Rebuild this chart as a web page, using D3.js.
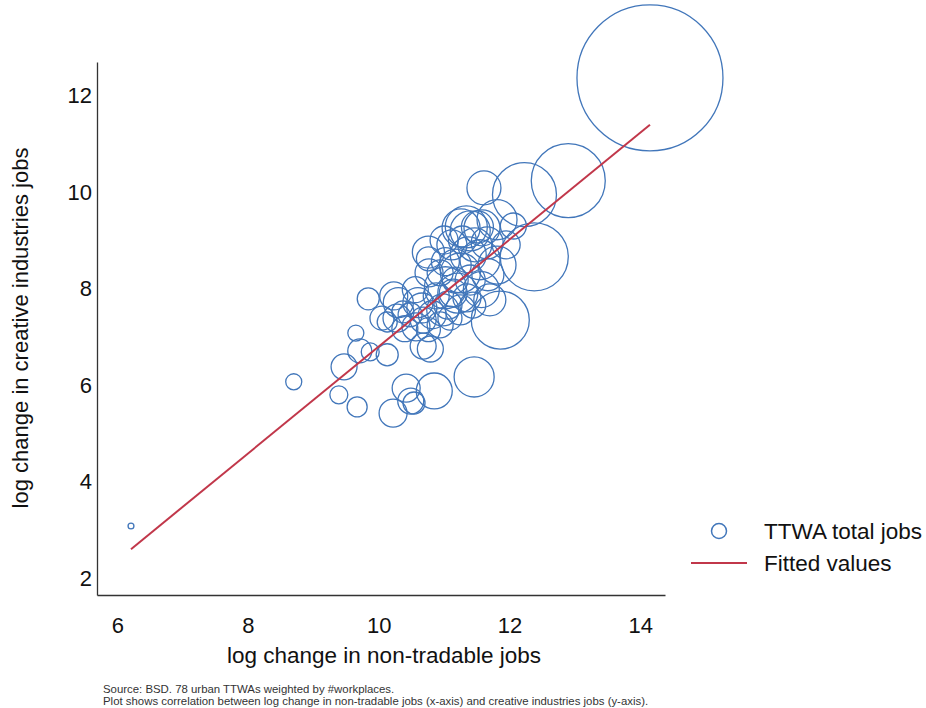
<!DOCTYPE html>
<html>
<head>
<meta charset="utf-8">
<script src="https://cdn.jsdelivr.net/npm/d3@7"></script>
<style>
  html, body { margin: 0; padding: 0; background: #fff; }
  svg { display: block; font-family: Arial, "Liberation Sans", Helvetica, sans-serif; }
</style>
</head>
<body>
<div id="chart"></div>
<script>
// Log change in non-tradable jobs (x) vs creative industries jobs (y), one bubble per TTWA,
// bubble area proportional to total jobs (thousands).
const nonTradable = [
  14.15, 12.90, 12.23, 11.61, 12.38, 11.86, 11.46, 10.85, 6.21, 8.70,
  9.39, 9.67, 10.22, 10.42, 10.49, 10.54, 9.47, 9.65, 9.84, 9.71,
  9.87, 10.13, 10.68, 10.79, 11.26, 11.34, 11.40, 11.51, 11.81, 12.06,
  10.76, 10.76, 10.77, 10.94, 11.37, 11.55, 11.81, 11.25, 11.02, 11.14,
  11.21, 11.35, 11.57, 10.23, 10.30, 10.60, 10.66, 10.82, 10.98, 10.05,
  10.13, 10.28, 10.40, 10.57, 10.68, 11.66, 11.12, 11.47, 11.02, 11.17,
  11.40, 11.67, 10.88, 11.06, 11.25, 11.44, 10.94, 11.09, 10.76, 10.48,
  11.70, 11.95, 11.28, 10.56, 10.37, 11.58, 11.00, 11.17
];
const creative = [
  12.37, 10.24, 9.95, 10.09, 8.66, 7.35, 6.17, 5.88, 3.08, 6.07,
  5.80, 5.55, 5.42, 5.94, 5.67, 5.63, 6.38, 7.08, 7.79, 6.71,
  6.69, 6.63, 6.81, 6.75, 9.26, 9.28, 9.20, 9.28, 9.43, 9.30,
  8.76, 8.62, 8.33, 8.33, 8.70, 8.60, 8.49, 8.33, 8.02, 7.91,
  7.91, 7.81, 7.98, 7.85, 7.71, 7.71, 7.60, 7.46, 7.56, 7.39,
  7.31, 7.39, 7.17, 7.21, 7.35, 8.95, 8.91, 8.91, 8.56, 8.49,
  8.18, 8.29, 7.85, 7.66, 7.56, 7.66, 7.25, 7.39, 7.15, 7.46,
  7.77, 8.91, 9.01, 7.98, 7.52, 9.26, 9.01, 8.18
];
const totalJobs = [
  4300, 1105, 826, 233, 933, 679, 323, 261, 7, 52,
  65, 81, 158, 158, 136, 98, 136, 52, 98, 116,
  65, 98, 136, 136, 291, 356, 323, 207, 323, 136,
  207, 116, 158, 136, 261, 323, 291, 323, 356, 158,
  323, 158, 261, 158, 182, 182, 182, 158, 207, 116,
  81, 158, 136, 158, 136, 207, 182, 233, 158, 207,
  182, 207, 136, 158, 182, 136, 136, 116, 116, 116,
  207, 158, 158, 136, 98, 261, 158, 136
];

// Fitted values line (end points of the weighted linear fit)
const fitX = [6.21, 14.15];
const fitY = [2.60, 11.40];

const xTicks = [6, 8, 10, 12, 14];
const yTicks = [2, 4, 6, 8, 10, 12];

const xTitle = "log change in non-tradable jobs";
const yTitle = "log change in creative industries jobs";
const legendLabels = ["TTWA total jobs", "Fitted values"];
const notes = [
  "Source: BSD. 78 urban TTWAs weighted by #workplaces.",
  "Plot shows correlation between log change in non-tradable jobs (x-axis) and creative industries jobs (y-axis)."
];

const W = 926, H = 708;
const blue = "#4176ba";
const red = "#c1374a";
const axisColor = "#333";
const fontSize = 22.5;

const svg = d3.select("#chart").append("svg")
  .attr("width", W).attr("height", H);

const x = d3.scaleLinear().domain([5.69, 14.38]).range([97, 665]);
const y = d3.scaleLinear().domain([1.65, 12.7]).range([595, 62]);
const r = d3.scaleSqrt().domain([0, d3.max(totalJobs)]).range([0, 73]);

const points = nonTradable.map((v, i) => ({ x: v, y: creative[i], w: totalJobs[i] }));

// Axes
const xAxis = svg.append("g")
  .attr("transform", `translate(0,${y.range()[0]})`)
  .call(d3.axisBottom(x).tickValues(xTicks).tickSize(0).tickPadding(22).tickFormat(d3.format("d")));
const yAxis = svg.append("g")
  .attr("transform", `translate(${x.range()[0]},0)`)
  .call(d3.axisLeft(y).tickValues(yTicks).tickSize(0).tickPadding(5).tickFormat(d3.format("d")));

[xAxis, yAxis].forEach(g => {
  g.select(".domain").attr("stroke", axisColor).attr("stroke-width", 1.3);
  g.selectAll("text").attr("font-size", 22).attr("fill", "#111")
    .attr("font-family", "Arial, 'Liberation Sans', sans-serif");
});

// Bubbles
svg.append("g")
  .selectAll("circle")
  .data(points)
  .join("circle")
  .attr("cx", d => x(d.x))
  .attr("cy", d => y(d.y))
  .attr("r", d => r(d.w))
  .attr("fill", "none")
  .attr("stroke", blue)
  .attr("stroke-width", 1.3);

// Fitted line
svg.append("path")
  .datum(fitX.map((v, i) => [v, fitY[i]]))
  .attr("d", d3.line().x(d => x(d[0])).y(d => y(d[1])))
  .attr("fill", "none")
  .attr("stroke", red)
  .attr("stroke-width", 2);

// Axis titles
svg.append("text")
  .attr("x", 384).attr("y", 663)
  .attr("text-anchor", "middle")
  .attr("font-size", fontSize).attr("fill", "#111")
  .text(xTitle);

svg.append("text")
  .attr("transform", "translate(28,328) rotate(-90)")
  .attr("text-anchor", "middle")
  .attr("font-size", 22).attr("fill", "#111")
  .text(yTitle);

// Legend
const leg = svg.append("g");
leg.append("circle")
  .attr("cx", 719).attr("cy", 531).attr("r", 7.5)
  .attr("fill", "none").attr("stroke", blue).attr("stroke-width", 1.5);
leg.append("line")
  .attr("x1", 691).attr("x2", 747).attr("y1", 563).attr("y2", 563)
  .attr("stroke", red).attr("stroke-width", 2);
leg.selectAll("text.lab")
  .data(legendLabels)
  .join("text")
  .attr("class", "lab")
  .attr("x", 764)
  .attr("y", (d, i) => 539 + i * 32)
  .attr("font-size", fontSize).attr("fill", "#111")
  .text(d => d);

// Notes
svg.selectAll("text.note")
  .data(notes)
  .join("text")
  .attr("class", "note")
  .attr("x", 103)
  .attr("y", (d, i) => 693 + i * 12)
  .attr("font-size", 11.4).attr("fill", "#333")
  .text(d => d);
</script>
</body>
</html>
